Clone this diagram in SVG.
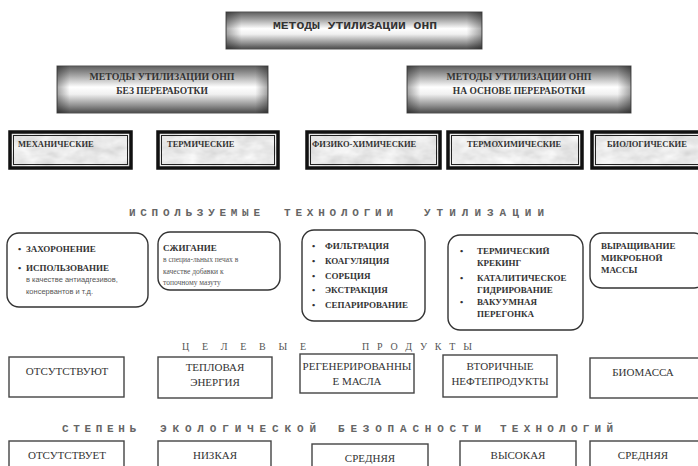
<svg xmlns="http://www.w3.org/2000/svg" width="698" height="466" viewBox="0 0 698 466">
<defs>
<linearGradient id="metalV" x1="0" y1="0" x2="0" y2="1">
<stop offset="0" stop-color="#5e5e5e"/>
<stop offset="0.18" stop-color="#9c9c9c"/>
<stop offset="0.45" stop-color="#ffffff"/>
<stop offset="0.6" stop-color="#f0f0f0"/>
<stop offset="0.85" stop-color="#8c8c8c"/>
<stop offset="1" stop-color="#4a4a4a"/>
</linearGradient>
<linearGradient id="metalH" x1="0" y1="0" x2="1" y2="0">
<stop offset="0" stop-color="#000" stop-opacity="0.35"/>
<stop offset="0.06" stop-color="#000" stop-opacity="0"/>
<stop offset="0.94" stop-color="#000" stop-opacity="0"/>
<stop offset="1" stop-color="#000" stop-opacity="0.35"/>
</linearGradient>
<filter id="marble" x="0" y="0" width="1" height="1">
<feTurbulence type="fractalNoise" baseFrequency="0.05 0.09" numOctaves="3" seed="4"/>
<feColorMatrix type="matrix" values="0.4 0 0 0 0.62  0.4 0 0 0 0.62  0.4 0 0 0 0.62  0 0 0 0 1"/>
</filter>
<style>
.metal{fill:url(#metalV);stroke:#555;stroke-width:1}
.edge{fill:url(#metalH);stroke:none}
.mono{font-family:"Liberation Mono","DejaVu Sans Mono",monospace;font-weight:bold}
.ser{font-family:"Liberation Serif","DejaVu Serif",serif}
.sans{font-family:"Liberation Sans","DejaVu Sans",sans-serif}
.b{font-weight:bold}
.cat-out{fill:none;stroke:#111;stroke-width:3.5}
.cat-in{fill:none;stroke:#222;stroke-width:1}
.cat-t{font-family:"Liberation Serif",serif;font-weight:bold;font-size:8.5px;fill:#333}
.tech{fill:#fff;stroke:#333;stroke-width:1.4}
.tt{font-family:"Liberation Serif",serif;font-weight:bold;font-size:9px;fill:#333}
.small{font-size:7.5px;fill:#555}
.head{font-family:"Liberation Mono",monospace;font-weight:bold;font-size:11px;fill:#666}
.head2{font-family:"Liberation Serif",serif;font-size:10px;fill:#555}
.pbox{fill:#fff;stroke:#444;stroke-width:1.4}
.pt{font-family:"Liberation Serif",serif;font-size:11px;fill:#333;text-anchor:middle}
</style>
</defs>
<rect width="698" height="466" fill="#fff"/>

<g id="root">
<rect class="metal" x="226" y="12" width="256" height="37"/>
<rect class="edge" x="226" y="12" width="256" height="37"/>
<text class="mono" x="355" y="29" font-size="11" fill="#333" text-anchor="middle" textLength="164" lengthAdjust="spacingAndGlyphs">МЕТОДЫ УТИЛИЗАЦИИ ОНП</text>
</g>

<g id="no-processing">
<rect class="metal" x="57" y="66" width="211" height="47"/>
<rect class="edge" x="57" y="66" width="211" height="47"/>
<text class="ser b" x="162" y="80" font-size="9.5" fill="#333" text-anchor="middle" textLength="145" lengthAdjust="spacingAndGlyphs">МЕТОДЫ УТИЛИЗАЦИИ ОНП</text>
<text class="ser b" x="162" y="94" font-size="9.5" fill="#333" text-anchor="middle">БЕЗ ПЕРЕРАБОТКИ</text>
</g>

<g id="processing">
<rect class="metal" x="407" y="66" width="224" height="47"/>
<rect class="edge" x="407" y="66" width="224" height="47"/>
<text class="ser b" x="519" y="80" font-size="9.5" fill="#333" text-anchor="middle" textLength="145" lengthAdjust="spacingAndGlyphs">МЕТОДЫ УТИЛИЗАЦИИ ОНП</text>
<text class="ser b" x="519" y="94" font-size="9.5" fill="#333" text-anchor="middle">НА ОСНОВЕ ПЕРЕРАБОТКИ</text>
</g>

<g id="cat-mech">
<rect x="10" y="132" width="121" height="36" filter="url(#marble)"/>
<rect class="cat-out" x="10" y="132" width="121" height="36"/>
<rect class="cat-in" x="13.5" y="135.5" width="114" height="29"/>
<text class="cat-t" x="18" y="147">МЕХАНИЧЕСКИЕ</text>
</g>
<g id="cat-therm">
<rect x="158" y="132" width="120" height="36" filter="url(#marble)"/>
<rect class="cat-out" x="158" y="132" width="120" height="36"/>
<rect class="cat-in" x="161.5" y="135.5" width="113" height="29"/>
<text class="cat-t" x="167" y="147">ТЕРМИЧЕСКИЕ</text>
</g>
<g id="cat-physchem">
<rect x="307" y="132" width="133" height="36" filter="url(#marble)"/>
<rect class="cat-out" x="307" y="132" width="133" height="36"/>
<rect class="cat-in" x="310.5" y="135.5" width="126" height="29"/>
<text class="cat-t" x="312" y="147">ФИЗИКО-ХИМИЧЕСКИЕ</text>
</g>
<g id="cat-thermchem">
<rect x="448" y="132" width="134" height="36" filter="url(#marble)"/>
<rect class="cat-out" x="448" y="132" width="134" height="36"/>
<rect class="cat-in" x="451.5" y="135.5" width="127" height="29"/>
<text class="cat-t" x="467" y="147">ТЕРМОХИМИЧЕСКИЕ</text>
</g>
<g id="cat-bio">
<rect x="592" y="132" width="112" height="36" filter="url(#marble)"/>
<rect class="cat-out" x="592" y="132" width="112" height="36"/>
<rect class="cat-in" x="595.5" y="135.5" width="105" height="29"/>
<text class="cat-t" x="607" y="147">БИОЛОГИЧЕСКИЕ</text>
</g>

<g id="heading-tech">
<text class="head" x="129" y="216" textLength="131" lengthAdjust="spacing">ИСПОЛЬЗУЕМЫЕ</text>
<text class="head" x="284" y="216" textLength="109" lengthAdjust="spacing">ТЕХНОЛОГИИ</text>
<text class="head" x="424" y="216" textLength="120" lengthAdjust="spacing">УТИЛИЗАЦИИ</text>
</g>

<g id="tech-mech">
<rect class="tech" x="7" y="233" width="141" height="74" rx="12"/>
<text class="tt" x="18" y="252">•</text>
<text class="tt" x="26" y="252" font-size="8.5">ЗАХОРОНЕНИЕ</text>
<text class="tt" x="18" y="271">•</text>
<text class="tt" x="26" y="271" font-size="8.5">ИСПОЛЬЗОВАНИЕ</text>
<text class="sans small" x="26" y="282" fill="#444">в качестве антиадгезивов,</text>
<text class="sans small" x="26" y="294" fill="#444">консервантов и т.д.</text>
</g>

<g id="tech-therm">
<rect class="tech" x="158" y="232" width="122" height="58" rx="12"/>
<text class="tt" x="163" y="251" font-size="9.5">СЖИГАНИЕ</text>
<text class="ser small" x="163" y="262">в специа-льных печах в</text>
<text class="ser small" x="163" y="274">качестве добавки к</text>
<text class="ser small" x="163" y="285">топочному мазуту</text>
</g>

<g id="tech-physchem">
<rect class="tech" x="302" y="230" width="123" height="91" rx="12"/>
<text class="tt" x="312" y="249">•</text><text class="tt" x="325" y="249">ФИЛЬТРАЦИЯ</text>
<text class="tt" x="312" y="264">•</text><text class="tt" x="325" y="264">КОАГУЛЯЦИЯ</text>
<text class="tt" x="312" y="279">•</text><text class="tt" x="325" y="279">СОРБЦИЯ</text>
<text class="tt" x="312" y="293">•</text><text class="tt" x="325" y="293">ЭКСТРАКЦИЯ</text>
<text class="tt" x="312" y="308">•</text><text class="tt" x="325" y="308">СЕПАРИРОВАНИЕ</text>
</g>

<g id="tech-thermchem">
<rect class="tech" x="448" y="235" width="135" height="95" rx="12"/>
<text class="tt" x="460" y="254">•</text><text class="tt" x="477" y="254">ТЕРМИЧЕСКИЙ</text>
<text class="tt" x="477" y="266">КРЕКИНГ</text>
<text class="tt" x="460" y="281">•</text><text class="tt" x="477" y="281">КАТАЛИТИЧЕСКОЕ</text>
<text class="tt" x="477" y="293">ГИДРИРОВАНИЕ</text>
<text class="tt" x="460" y="305">•</text><text class="tt" x="477" y="305">ВАКУУМНАЯ</text>
<text class="tt" x="477" y="317">ПЕРЕГОНКА</text>
</g>

<g id="tech-bio">
<rect class="tech" x="590" y="233" width="116" height="55" rx="12"/>
<text class="tt" x="601" y="249">ВЫРАЩИВАНИЕ</text>
<text class="tt" x="601" y="261">МИКРОБНОЙ</text>
<text class="tt" x="601" y="273">МАССЫ</text>
</g>

<g id="heading-products">
<text class="head2" x="182" y="350" textLength="124" lengthAdjust="spacing">ЦЕЛЕВЫЕ</text>
<text class="head2" x="362" y="350" textLength="110" lengthAdjust="spacing">ПРОДУКТЫ</text>
</g>

<g id="prod-none">
<rect class="pbox" x="9" y="357" width="115" height="40"/>
<text class="pt" x="67" y="375">ОТСУТСТВУЮТ</text>
</g>
<g id="prod-heat">
<rect class="pbox" x="158" y="357" width="114" height="41"/>
<text class="pt" x="215" y="371">ТЕПЛОВАЯ</text>
<text class="pt" x="215" y="386">ЭНЕРГИЯ</text>
</g>
<g id="prod-oil">
<rect class="pbox" x="300" y="354" width="114" height="39"/>
<text class="pt" x="357" y="370">РЕГЕНЕРИРОВАННЫ</text>
<text class="pt" x="357" y="385">Е МАСЛА</text>
</g>
<g id="prod-secondary">
<rect class="pbox" x="443" y="355" width="114" height="42"/>
<text class="pt" x="500" y="370">ВТОРИЧНЫЕ</text>
<text class="pt" x="500" y="385">НЕФТЕПРОДУКТЫ</text>
</g>
<g id="prod-biomass">
<rect class="pbox" x="590" y="358" width="115" height="40"/>
<text class="pt" x="643" y="376">БИОМАССА</text>
</g>

<g id="heading-safety">
<text class="head" x="62" y="432" textLength="74" lengthAdjust="spacing">СТЕПЕНЬ</text>
<text class="head" x="160" y="432" textLength="156" lengthAdjust="spacing">ЭКОЛОГИЧЕСКОЙ</text>
<text class="head" x="338" y="432" textLength="143" lengthAdjust="spacing">БЕЗОПАСНОСТИ</text>
<text class="head" x="500" y="432" textLength="113" lengthAdjust="spacing">ТЕХНОЛОГИЙ</text>
</g>

<g id="safe-none">
<rect class="pbox" x="9" y="441" width="115" height="30"/>
<text class="pt" x="67" y="459">ОТСУТСТВУЕТ</text>
</g>
<g id="safe-low">
<rect class="pbox" x="158" y="441" width="113" height="30"/>
<text class="pt" x="215" y="459">НИЗКАЯ</text>
</g>
<g id="safe-mid1">
<rect class="pbox" x="312" y="444" width="116" height="30"/>
<text class="pt" x="370" y="462">СРЕДНЯЯ</text>
</g>
<g id="safe-high">
<rect class="pbox" x="460" y="441" width="116" height="30"/>
<text class="pt" x="518" y="459">ВЫСОКАЯ</text>
</g>
<g id="safe-mid2">
<rect class="pbox" x="590" y="441" width="115" height="30"/>
<text class="pt" x="643" y="459">СРЕДНЯЯ</text>
</g>

<g id="connectors"></g>
</svg>
